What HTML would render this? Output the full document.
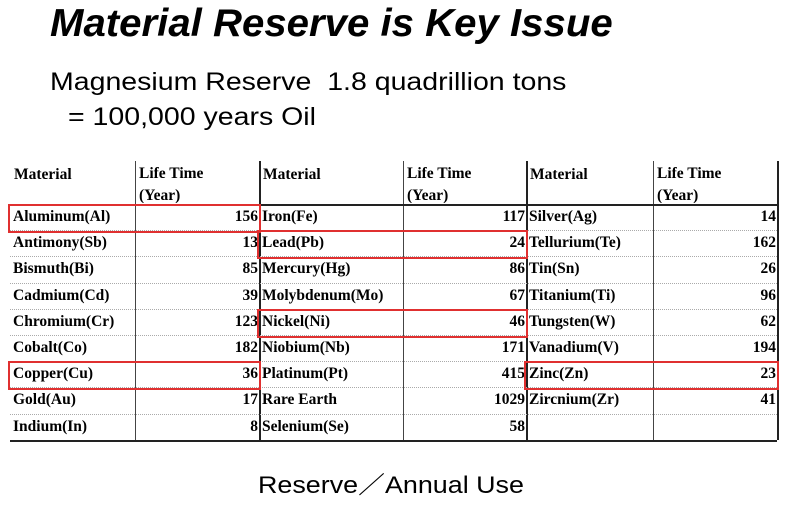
<!DOCTYPE html>
<html><head><meta charset="utf-8"><style>
body{margin:0;width:787px;height:512px;background:#fff;position:relative;overflow:hidden;font-family:"Liberation Sans",sans-serif}
.t{position:absolute;white-space:nowrap;color:#000;transform-origin:0 0}
.c{position:absolute;font-family:"Liberation Serif",serif;font-weight:bold;font-size:15.5px;color:#000;white-space:nowrap;line-height:26px}
.hl{position:absolute;height:0;border-top:1px dotted #aaa}
.vl{position:absolute;width:1px;background:#444}
.rb{position:absolute;border:2px solid #e03030;box-sizing:border-box}
</style></head><body>
<div class="t" style="left:50px;top:2px;font-size:39px;font-weight:bold;font-style:italic;transform:scaleX(1.03)">Material Reserve is Key Issue</div>
<div class="t" style="left:50px;top:68px;font-size:25px;transform:scaleX(1.14)">Magnesium Reserve&nbsp; 1.8 quadrillion tons</div>
<div class="t" style="left:68px;top:103px;font-size:25px;transform:scaleX(1.14)">= 100,000 years Oil</div>
<div class="t" style="left:258px;top:465px;font-size:24px;transform:scaleX(1.12)">Reserve／Annual Use</div>
<div id="tbl"></div>
<script>
const names1=["Aluminum(Al)","Antimony(Sb)","Bismuth(Bi)","Cadmium(Cd)","Chromium(Cr)","Cobalt(Co)","Copper(Cu)","Gold(Au)","Indium(In)"];
const years1=[156,13,85,39,123,182,36,17,8];
const names2=["Iron(Fe)","Lead(Pb)","Mercury(Hg)","Molybdenum(Mo)","Nickel(Ni)","Niobium(Nb)","Platinum(Pt)","Rare Earth","Selenium(Se)"];
const years2=[117,24,86,67,46,171,415,1029,58];
const names3=["Silver(Ag)","Tellurium(Te)","Tin(Sn)","Titanium(Ti)","Tungsten(W)","Vanadium(V)","Zinc(Zn)","Zircnium(Zr)"];
const years3=[14,162,26,96,62,194,23,41];
const T=document.getElementById('tbl');
const X=[10,135,259,403,526,653,777];
const top0=161,hdrB=204,rowH=26.2;
function add(cls,style,txt,name){const d=document.createElement('div');d.className=cls;d.style.cssText=style;if(txt!==undefined)d.textContent=txt;


T.appendChild(d);return d;}
for(let i=1;i<X.length;i++){add('vl',`left:${X[i]}px;top:${top0}px;height:${440-top0}px;${(i%2==0)?'width:2px;background:#222;':''}`,undefined,'column-divider');}
for(let g=0;g<3;g++){
 add('c',`left:${X[g*2]+4}px;top:${top0+3}px;line-height:22px`,'Material','header-material');
 add('c',`left:${X[g*2+1]+4}px;top:${top0+3}px;line-height:20px`,'Life Time','header-life-time');
 add('c',`left:${X[g*2+1]+4}px;top:${top0+25}px;line-height:20px;height:17px;overflow:hidden`,'(Year)','header-year');
}
add('hl',`left:${X[0]}px;top:${hdrB}px;width:${X[6]-X[0]}px;border-top:2px solid #222`,undefined,'header-rule');
add('hl',`left:${X[0]}px;top:440px;width:${X[6]-X[0]}px;border-top:2px solid #222`,undefined,'bottom-rule');
for(let r=1;r<9;r++)add('hl',`left:${X[0]}px;top:${hdrB+r*rowH}px;width:${X[6]-X[0]}px`,undefined,'row-rule');
const groups=[[names1,years1],[names2,years2],[names3,years3]];
groups.forEach(([n,y],g)=>{
 n.forEach((nm,r)=>{
  const top=hdrB+r*rowH;
  add('c',`left:${X[g*2]+3}px;top:${top}px`,nm,'material-name');
  add('c',`left:${X[g*2+1]}px;width:${X[g*2+2]-X[g*2+1]-1}px;text-align:right;top:${top}px`,String(y[r]),'life-time-value');
 });
});
const hl=[[0,0],[1,1],[1,4],[0,6],[2,6]];
hl.forEach(([g,r])=>{
 const top=hdrB+r*rowH;
 add('rb',`left:${X[g*2]-2}px;top:${top}px;width:${X[g*2+2]-X[g*2]+4}px;height:${rowH+3}px`,undefined,'highlight-box');
});
</script>
</body></html>
